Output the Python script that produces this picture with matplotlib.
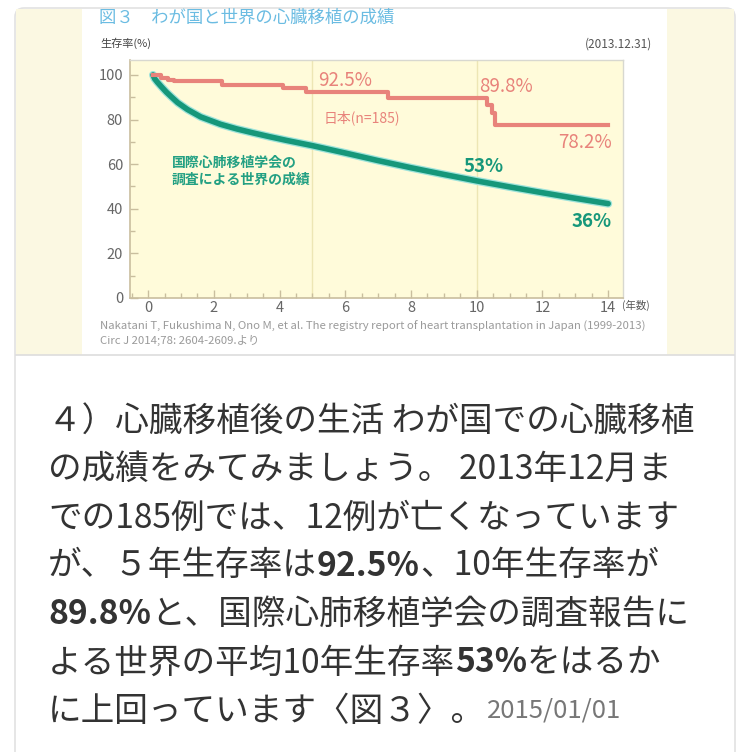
import matplotlib
matplotlib.use("Agg")
import matplotlib.pyplot as plt
from matplotlib.patches import FancyBboxPatch, Rectangle
from matplotlib.lines import Line2D
from matplotlib.ticker import MultipleLocator

plt.rcParams["font.family"] = ["Noto Sans CJK JP", "DejaVu Sans"]

W, H = 750, 752

# ---- data ----
japan_t = [0.15, 0.4, 0.6, 0.8, 2.25, 4.1, 4.8, 7.3, 10.3, 10.45, 10.55, 14.0]
japan_s = [100, 98.8, 97.7, 97.3, 95.5, 94.0, 92.5, 89.8, 86.5, 82.9, 77.5, 77.5]
world_t = [0.15, 0.2, 0.28, 0.4, 0.55, 0.7, 0.9, 1.2, 1.6, 2.2, 2.7, 3.2, 3.7, 4.2, 5.0,
           6.0, 7.0, 8.0, 9.0, 10.0, 11.0, 12.0, 13.0, 14.0]
world_s = [100, 98.3, 96.8, 94.8, 92.4, 90.3, 87.6, 84.5, 81.2, 77.9, 75.8, 74.0, 72.3, 70.7, 68.3,
           65, 61.6, 58.4, 55.4, 52.5, 49.8, 47.2, 44.7, 42.3]
y_ticks = [0, 20, 40, 60, 80, 100]
x_ticks = [0, 2, 4, 6, 8, 10, 12, 14]
grid_years = [5, 10]

chart_title = "図３　わが国と世界の心臓移植の成績"
y_label = "生存率(%)"
x_label = "(年数)"
as_of = "(2013.12.31)"
citation = ["Nakatani T, Fukushima N, Ono M, et al. The registry report of heart transplantation in Japan (1999-2013)",
            "Circ J 2014;78: 2604-2609.より"]

paragraph = [
    [("４）心臓移植後の生活 わが国での心臓移植", "n")],
    [("の成績をみてみましょう。 2013年12月ま", "n")],
    [("での185例では、12例が亡くなっています", "n")],
    [("が、５年生存率は", "n"), ("92.5%", "b"), ("、10年生存率が", "n")],
    [("89.8%", "b"), ("と、国際心肺移植学会の調査報告に", "n")],
    [("よる世界の平均10年生存率", "n"), ("53%", "b"), ("をはるか", "n")],
    [("に上回っています〈図３〉。", "n"), ("2015/01/01", "d")],
]

RED = "#E8837B"
TEAL = "#16977A"
CREAM = "#FBF8E2"
PLOT_BG = "#FFFBDA"


def fx(px):
    return px / W


def fy(py):
    return 1 - py / H


fig = plt.figure(figsize=(W / 100, H / 100), dpi=100)
fig.patch.set_facecolor("white")

# card + pillarbox around the chart image
fig.add_artist(FancyBboxPatch((fx(15), fy(762)), fx(720), 754 / H,
                              boxstyle="round,pad=0,rounding_size=0.012",
                              transform=fig.transFigure, facecolor="white",
                              edgecolor="#e2e2e2", linewidth=1.2, zorder=-3))
fig.add_artist(Rectangle((fx(16), fy(355)), fx(66), 346 / H, transform=fig.transFigure,
                         facecolor=CREAM, edgecolor="none", zorder=-2))
fig.add_artist(Rectangle((fx(667), fy(355)), fx(67), 346 / H, transform=fig.transFigure,
                         facecolor=CREAM, edgecolor="none", zorder=-2))
fig.add_artist(Line2D([fx(16), fx(734)], [fy(355), fy(355)], transform=fig.transFigure,
                      color="#dddddd", linewidth=1.2, zorder=-2))

# ---- chart ----
ax = fig.add_axes([fx(130), fy(298), fx(623 - 130), (298 - 60) / H])
ax.set_zorder(2)
ax.set_facecolor(PLOT_BG)
ax.set_xlim(-0.55, 14.45)
ax.set_ylim(0, 106.7)
for yr in grid_years:
    ax.axvline(yr, color="#EDE6B4", linewidth=1, zorder=1)

ax.plot(world_t, world_s, color="#9EE3DA", linewidth=5.8, solid_capstyle="round", zorder=2)
ax.plot(world_t, world_s, color=TEAL, linewidth=4.0, solid_capstyle="round", zorder=3)
ax.plot(japan_t, japan_s, drawstyle="steps-post", color=RED, linewidth=3.0, zorder=4)

for side in ["left", "bottom"]:
    ax.spines[side].set_color("#C9BE9E")
    ax.spines[side].set_linewidth(1.2)
for side in ["top", "right"]:
    ax.spines[side].set_color("#d8d8d0")
    ax.spines[side].set_linewidth(1.0)

ax.set_yticks(y_ticks)
ax.yaxis.set_minor_locator(MultipleLocator(10))
ax.set_xticks(x_ticks)
ax.xaxis.set_minor_locator(MultipleLocator(0.5))
ax.tick_params(axis="both", which="major", direction="in", length=6, width=1,
               color="#C9BE9E", labelcolor="#666666", labelsize=10.5)
ax.tick_params(axis="both", which="minor", direction="in", length=3.5, width=1, color="#C9BE9E")
ax.tick_params(axis="x", which="major", pad=2)
ax.tick_params(axis="y", which="major", pad=5)

ax.text(6.0, 97.6, "92.5%", color=RED, fontsize=13.5, ha="center", va="center")
ax.text(10.9, 94.6, "89.8%", color=RED, fontsize=13.5, ha="center", va="center")
ax.text(6.5, 80.7, "日本(n=185)", color=RED, fontsize=10, ha="center", va="center")
ax.text(14.1, 69.6, "78.2%", color=RED, fontsize=13.5, ha="right", va="center")
ax.text(10.2, 58.8, "53%", color=TEAL, fontsize=13.5, fontweight="bold", ha="center", va="center")
ax.text(14.1, 34.3, "36%", color=TEAL, fontsize=13.5, fontweight="bold", ha="right", va="center")
ax.text(0.72, 56.8, "国際心肺移植学会の\n調査による世界の成績", color="#23A083", fontsize=10,
        fontweight="bold", ha="left", va="center", linespacing=1.2)

fig.text(fx(99), fy(18), chart_title, color="#6BBCE2", fontsize=12.5, ha="left", va="center")
fig.text(fx(100), fy(43), y_label, color="#444444", fontsize=8, ha="left", va="center")
fig.text(fx(652), fy(44), as_of, color="#555555", fontsize=8.5, ha="right", va="center")
fig.text(fx(622), fy(305), x_label, color="#555555", fontsize=7.5, ha="left", va="center")
fig.text(fx(100), fy(326), citation[0], color="#9a9a9a", fontsize=8.2, ha="left", va="center")
fig.text(fx(100), fy(340), citation[1], color="#9a9a9a", fontsize=8.2, ha="left", va="center")

# ---- paragraph under the chart ----
renderer = fig.canvas.get_renderer()
styles = {
    "n": dict(fontsize=24.2, color="#333333"),
    "b": dict(fontsize=24.2, color="#333333", fontweight="bold"),
    "d": dict(fontsize=18.5, color="#777777"),
}
line_y = [421, 469, 518, 566, 614, 663, 711]
for parts, py in zip(paragraph, line_y):
    x = fx(48)
    for s, st in parts:
        if st == "d":
            x += fx(2)
        t = fig.text(x, fy(py), s, ha="left", va="center", **styles[st])
        x += t.get_window_extent(renderer).width / W

fig.savefig("out.png", dpi=100)
